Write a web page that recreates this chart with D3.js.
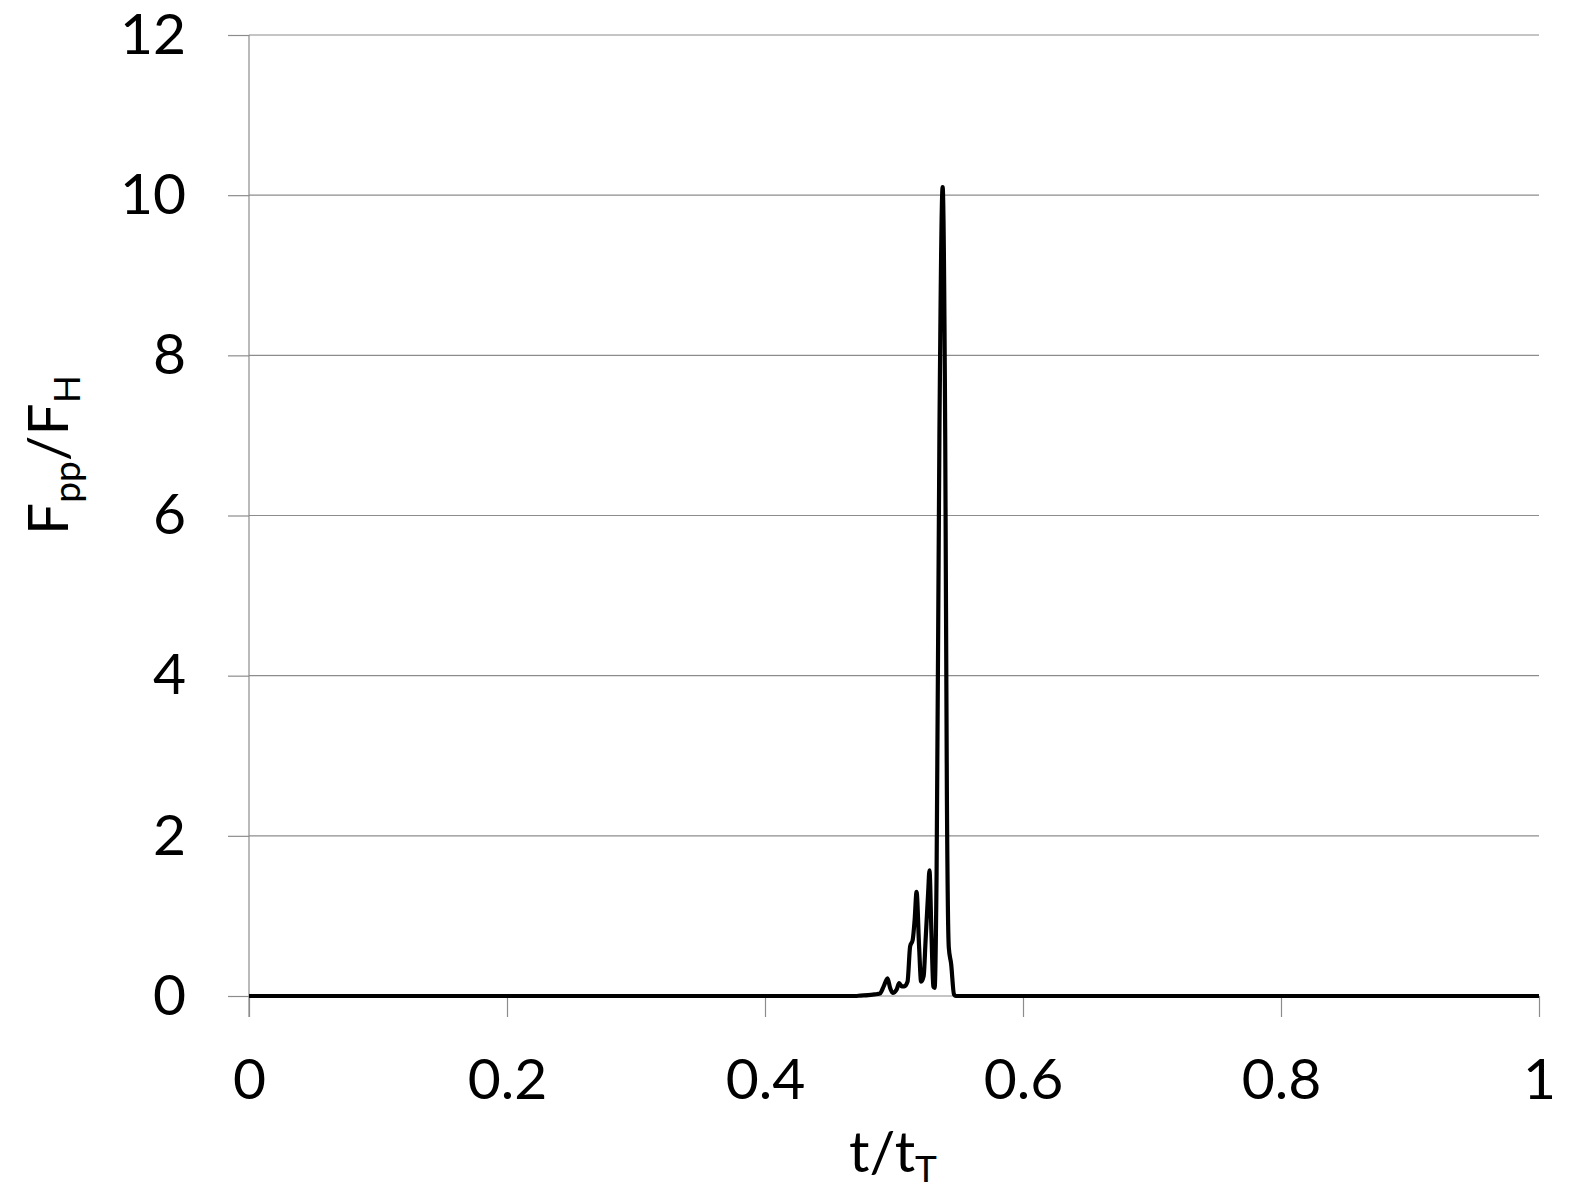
<!DOCTYPE html>
<html><head><meta charset="utf-8">
<script src="https://cdn.jsdelivr.net/npm/d3@7"></script>
<style>body{margin:0;background:#fff}svg{display:block}</style>
</head><body>
<script>
const tValues = [0, 0.47, 0.474, 0.48, 0.485, 0.489, 0.492, 0.495, 0.497, 0.499, 0.502, 0.504, 0.506, 0.508, 0.5105, 0.5125, 0.5145, 0.516, 0.5175, 0.5195, 0.521, 0.523, 0.5245, 0.5265, 0.5275, 0.529, 0.5305, 0.5315, 0.533, 0.5352, 0.5377, 0.5397, 0.541, 0.5425, 0.5443, 0.5465, 0.548, 1];
const fValues = [0, 0, 0.005, 0.01, 0.02, 0.03, 0.12, 0.22, 0.1, 0.04, 0.08, 0.16, 0.12, 0.12, 0.18, 0.62, 0.7, 0.95, 1.3, 0.6, 0.18, 0.25, 0.7, 1.3, 1.57, 0.8, 0.12, 0.1, 1.5, 7, 10.1, 7, 2.5, 0.6, 0.4, 0.02, 0, 0];
const xTicks = [0, 0.2, 0.4, 0.6, 0.8, 1];
const xTickLabels = ["0", "0.2", "0.4", "0.6", "0.8", "1"];
const yTicks = [0, 2, 4, 6, 8, 10, 12];
const yTickLabels = ["0", "2", "4", "6", "8", "10", "12"];

const W = 1569, H = 1193;
const svg = d3.select("body").append("svg").attr("width", W).attr("height", H);
const x = d3.scaleLinear().domain([0, 1]).range([249, 1539]);
const y = d3.scaleLinear().domain([0, 12]).range([996, 35]);
const font = "Lato, 'Open Sans', sans-serif";
const grid = "#8c8c8c";

svg.append("g").selectAll("line").data(yTicks.slice(1)).join("line")
  .attr("x1", x(0)).attr("x2", x(1)).attr("y1", d => y(d)).attr("y2", d => y(d))
  .attr("stroke", grid).attr("stroke-width", 1.2);

const yAxis = d3.axisLeft(y).tickValues(yTicks).tickFormat((d, i) => yTickLabels[i]).tickSize(21).tickPadding(42);
const gy = svg.append("g").attr("transform", `translate(${x(0)},0)`).call(yAxis);
gy.select(".domain").attr("stroke", grid).attr("stroke-width", 1.2).attr("d", `M0,${y(12)}V${y(0)+21}`);
gy.selectAll(".tick line").attr("stroke", grid).attr("stroke-width", 1.2);
gy.selectAll("text").attr("font-family", font).attr("font-size", 57).attr("fill", "#000");

const xAxis = d3.axisBottom(x).tickValues(xTicks).tickFormat((d, i) => xTickLabels[i]).tickSize(21).tickPadding(42);
const gx = svg.append("g").attr("transform", `translate(0,${y(0)})`).call(xAxis);
gx.select(".domain").attr("stroke", grid).attr("stroke-width", 1.2).attr("d", `M${x(0)},0H${x(1)}`);
gx.selectAll(".tick line").attr("stroke", grid).attr("stroke-width", 1.2);
gx.selectAll("text").attr("font-family", font).attr("font-size", 57).attr("fill", "#000");

const data = tValues.map((t, i) => [t, fValues[i]]);
svg.append("path").datum(data)
  .attr("d", d3.line().x(d => x(d[0])).y(d => y(d[1])).curve(d3.curveMonotoneX))
  .attr("fill", "none").attr("stroke", "#000").attr("stroke-width", 4.2).attr("stroke-linejoin", "round");

const xt = svg.append("text").attr("x", 893).attr("y", 1172).attr("text-anchor", "middle")
  .attr("font-family", font).attr("font-size", 57).attr("fill", "#000");
xt.append("tspan").text("t/t");
xt.append("tspan").attr("font-size", 37).attr("dy", 10).text("T");

const yt = svg.append("text").attr("transform", "translate(68,455) rotate(-90)").attr("text-anchor", "middle")
  .attr("font-family", font).attr("font-size", 57).attr("fill", "#000");
yt.append("tspan").text("F");
yt.append("tspan").attr("font-size", 37).attr("dy", 12).text("pp");
yt.append("tspan").attr("dy", -12).text("/F");
yt.append("tspan").attr("font-size", 37).attr("dy", 12).text("H");
</script>
</body></html>
